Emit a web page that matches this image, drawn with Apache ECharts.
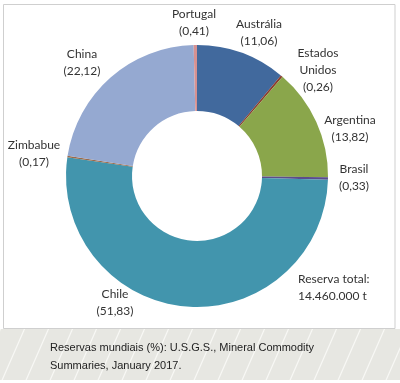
<!DOCTYPE html>
<html>
<head>
<meta charset="utf-8">
<script src="https://cdn.jsdelivr.net/npm/echarts@6/dist/echarts.min.js"></script>
<style>
html,body{margin:0;padding:0;background:#fff;}
#c{width:400px;height:383px;}
</style>
</head>
<body>
<div id="c"></div>
<script>
// Data
const countries = ['Austrália', 'Estados Unidos', 'Argentina', 'Brasil', 'Chile', 'Zimbabue', 'China', 'Portugal'];
const labelNames = ['Austrália', 'Estados\nUnidos', 'Argentina', 'Brasil', 'Chile', 'Zimbabue', 'China', 'Portugal'];
const shares = [11.06, 0.26, 13.82, 0.33, 51.83, 0.17, 22.12, 0.41];
const totalLabel = ['Reserva total:', '14.460.000 t'];
const footerLines = ['Reservas mundiais (%): U.S.G.S., Mineral Commodity', 'Summaries, January 2017.'];

// Styles / layout
const colors = ['#41699d', '#8a3b2c', '#8aa64b', '#5b4c8c', '#4295ad', '#9b6a4a', '#95a9d1', '#d69191'];
const labelPos = [[259,33],[318,70],[350,129],[354,178],[115,303],[34,154],[82,63],[194,23]];

const fmt = v => v.toFixed(2).replace('.', ',');

// footer stripe pattern
const tile = document.createElement('canvas');
tile.width = 24; tile.height = 55;
const g = tile.getContext('2d');
g.fillStyle = '#e7e7e2'; g.fillRect(0,0,24,55);
g.strokeStyle = '#f8f8f5'; g.lineWidth = 1.2;
for (const off of [-24, 0, 24]) {
  g.beginPath(); g.moveTo(off + 0, 55); g.lineTo(off + 24, 0); g.stroke();
}

const chart = echarts.init(document.getElementById('c'), null, {renderer: 'canvas'});
chart.setOption({
  backgroundColor: '#fff',
  animation: false,
  graphic: [
    { type: 'rect', z: -10, shape: {x: 0, y: 329, width: 400, height: 51},
      style: {fill: {image: tile, repeat: 'repeat'}} },
    { type: 'rect', z: -5, shape: {x: 3.5, y: 4.5, width: 391.5, height: 324},
      style: {fill: '#fff', stroke: '#cfcfcf', lineWidth: 1} },
    { type: 'text', left: 298, top: 271,
      style: {text: totalLabel.join('\n'), font: '12px Lato', fill: '#333', lineHeight: 17} },
    { type: 'text', left: 50, top: 339,
      style: {text: footerLines.join('\n'), font: '11px "Liberation Sans"', fill: '#222', lineHeight: 18} }
  ],
  series: [{
    type: 'pie',
    center: [197, 176],
    radius: [65, 131],
    startAngle: 90,
    clockwise: true,
    silent: true,
    avoidLabelOverlap: false,
    itemStyle: {borderWidth: 0},
    label: {
      show: true,
      position: 'outside',
      fontFamily: 'Lato',
      fontSize: 12,
      color: '#333',
      lineHeight: 17,
      align: 'center',
      formatter: p => labelNames[p.dataIndex] + '\n(' + fmt(p.value) + ')'
    },
    labelLine: {show: false},
    labelLayout: p => ({
      x: labelPos[p.dataIndex][0],
      y: labelPos[p.dataIndex][1],
      align: 'center',
      verticalAlign: 'middle'
    }),
    data: countries.map((n, i) => ({name: n, value: shares[i], itemStyle: {color: colors[i]}}))
  }]
});
</script>
</body>
</html>
